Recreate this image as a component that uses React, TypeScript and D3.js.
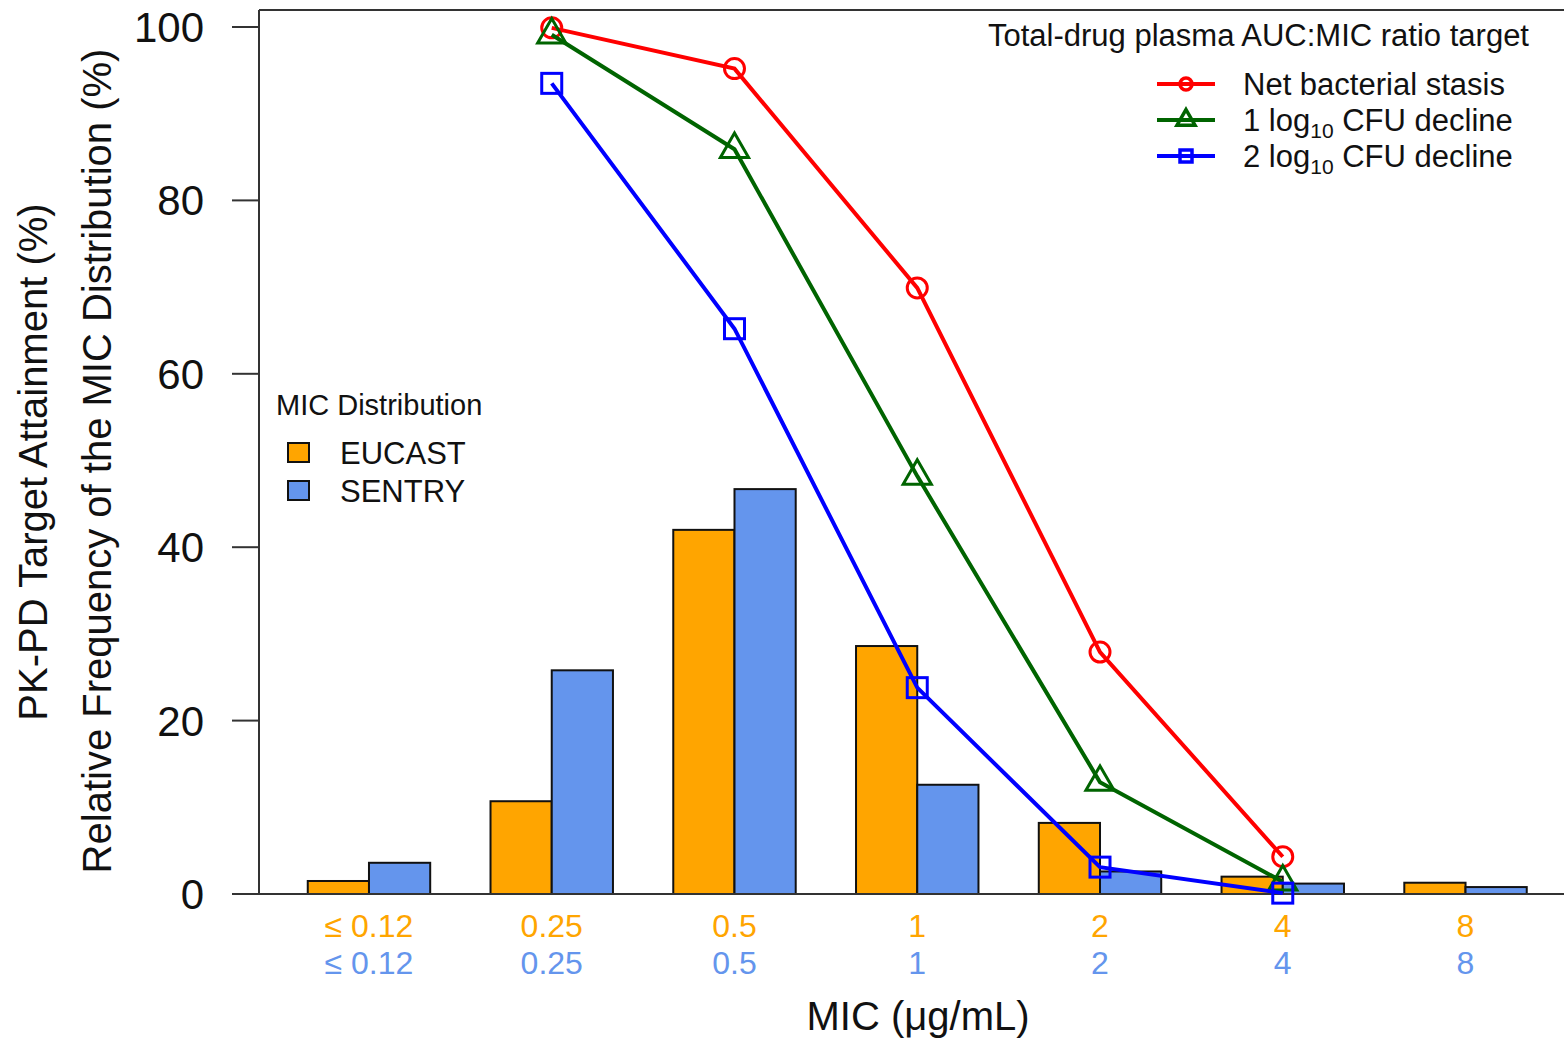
import React from "react";
import * as d3 from "d3";

const width = 1564;
const height = 1038;
const font = "'Liberation Sans', Arial, sans-serif";

// MIC categories (µg/mL)
const micLabels = ["≤ 0.12", "0.25", "0.5", "1", "2", "4", "8"];
const distributions = ["EUCAST", "SENTRY"];
const distColors = ["#FFA500", "#6495ED"];

// relative frequency of MIC distribution (%)
const eucast = [1.5, 10.7, 42.0, 28.6, 8.2, 2.0, 1.3];
const sentry = [3.6, 25.8, 46.7, 12.6, 2.6, 1.2, 0.8];

// PK-PD target attainment (%), from MIC 0.25 up to 4
const targetMics = ["0.25", "0.5", "1", "2", "4"];
const stasis = [99.9, 95.2, 69.9, 27.9, 4.3];
const oneLog = [99.1, 85.9, 48.2, 12.9, 1.4];
const twoLog = [93.5, 65.2, 23.8, 3.1, 0.1];

const yTicks = [0, 20, 40, 60, 80, 100];

const series = [
  { name: "Net bacterial stasis", sub: null, values: stasis, color: "#FF0000", shape: "circle" },
  { name: "1 log", sub: "10", rest: " CFU decline", values: oneLog, color: "#006400", shape: "triangle" },
  { name: "2 log", sub: "10", rest: " CFU decline", values: twoLog, color: "#0000FF", shape: "square" },
];

const x = d3
  .scaleBand()
  .domain(micLabels)
  .range([277.6, 1556.9])
  .paddingInner(0.33)
  .paddingOuter(0.165);

const xSub = d3.scaleBand().domain(distributions).range([0, x.bandwidth()]);

const y = d3.scaleLinear().domain([0, 100]).range([894, 27]);

const cx = (m) => x(m) + x.bandwidth() / 2;

function Marker({ shape, px, py, color, size, sw = 3 }) {
  if (shape === "circle") {
    return <circle cx={px} cy={py} r={size / 2} fill="none" stroke={color} strokeWidth={sw} />;
  }
  if (shape === "square") {
    return (
      <rect x={px - size / 2} y={py - size / 2} width={size} height={size} fill="none" stroke={color} strokeWidth={sw} />
    );
  }
  const tri = d3.symbol().type(d3.symbolTriangle).size(size * size * 0.55)();
  return <path d={tri} transform={`translate(${px},${py})`} fill="none" stroke={color} strokeWidth={sw} />;
}

export default function App() {
  const line = d3
    .line()
    .x((d) => cx(d[0]))
    .y((d) => y(d[1]));

  const bars = [eucast, sentry];

  return (
    <svg width={width} height={height} style={{ display: "block", position: "absolute", left: 0, top: 0 }}>
      <rect width={width} height={height} fill="#fff" />

      {/* bars */}
      {micLabels.map((m, i) =>
        distributions.map((d, j) => (
          <rect
            key={m + d}
            x={x(m) + xSub(d)}
            y={y(bars[j][i])}
            width={xSub.bandwidth()}
            height={y(0) - y(bars[j][i])}
            fill={distColors[j]}
            stroke="#111"
            strokeWidth={2}
          />
        ))
      )}

      {/* frame / axes */}
      <g stroke="#333" strokeWidth={2}>
        <line x1={259} x2={width} y1={10} y2={10} />
        <line x1={259} x2={259} y1={10} y2={y(0)} />
        <line x1={232} x2={width} y1={y(0)} y2={y(0)} />
        {yTicks.map((t) => (
          <line key={t} x1={232} x2={259} y1={y(t)} y2={y(t)} />
        ))}
      </g>
      {yTicks.map((t) => (
        <text key={t} x={204} y={y(t) + 15} textAnchor="end" fontFamily={font} fontSize={42} fill="#111">
          {t}
        </text>
      ))}

      {/* x tick labels, two rows */}
      {micLabels.map((m) => (
        <g key={m} fontFamily={font} fontSize={32} textAnchor="middle">
          <text x={cx(m)} y={937} fill={distColors[0]}>{m}</text>
          <text x={cx(m)} y={974} fill={distColors[1]}>{m}</text>
        </g>
      ))}

      {/* target attainment lines */}
      {series.map((s) => (
        <g key={s.name}>
          <path
            d={line(targetMics.map((m, i) => [m, s.values[i]]))}
            fill="none"
            stroke={s.color}
            strokeWidth={4}
          />
          {targetMics.map((m, i) => (
            <Marker
              key={m}
              shape={s.shape}
              px={cx(m)}
              py={y(s.values[i])}
              color={s.color}
              size={s.shape === "triangle" ? 25 : 20}
            />
          ))}
        </g>
      ))}

      {/* axis titles */}
      <text transform="translate(47,462) rotate(-90)" textAnchor="middle" fontFamily={font} fontSize={40} fill="#111">
        PK-PD Target Attainment (%)
      </text>
      <text transform="translate(111,461) rotate(-90)" textAnchor="middle" fontFamily={font} fontSize={40} fill="#111">
        Relative Frequency of the MIC Distribution (%)
      </text>
      <text x={918} y={1030} textAnchor="middle" fontFamily={font} fontSize={40} fill="#111">
        MIC (μg/mL)
      </text>

      {/* line legend */}
      <g fontFamily={font} fontSize={31} fill="#111">
        <text x={988} y={46}>Total-drug plasma AUC:MIC ratio target</text>
        {series.map((s, i) => {
          const ly = 84 + i * 36;
          return (
            <g key={s.name}>
              <line x1={1157} x2={1215} y1={ly} y2={ly} stroke={s.color} strokeWidth={4} />
              <Marker
                shape={s.shape}
                px={1186}
                py={ly}
                color={s.color}
                size={s.shape === "triangle" ? 16 : 12}
                sw={3.5}
              />
              <text x={1243} y={ly + 11}>
                {s.name}
                {s.sub ? (
                  <>
                    <tspan fontSize={21} dy={7}>{s.sub}</tspan>
                    <tspan dy={-7}>{s.rest}</tspan>
                  </>
                ) : null}
              </text>
            </g>
          );
        })}
      </g>

      {/* distribution legend */}
      <g fontFamily={font} fill="#111">
        <text x={276} y={415} fontSize={29}>MIC Distribution</text>
        {distributions.map((d, i) => (
          <g key={d}>
            <rect x={288} y={443 + i * 38} width={21} height={19} fill={distColors[i]} stroke="#111" strokeWidth={2} />
            <text x={340} y={464 + i * 38} fontSize={31}>{d}</text>
          </g>
        ))}
      </g>
    </svg>
  );
}
